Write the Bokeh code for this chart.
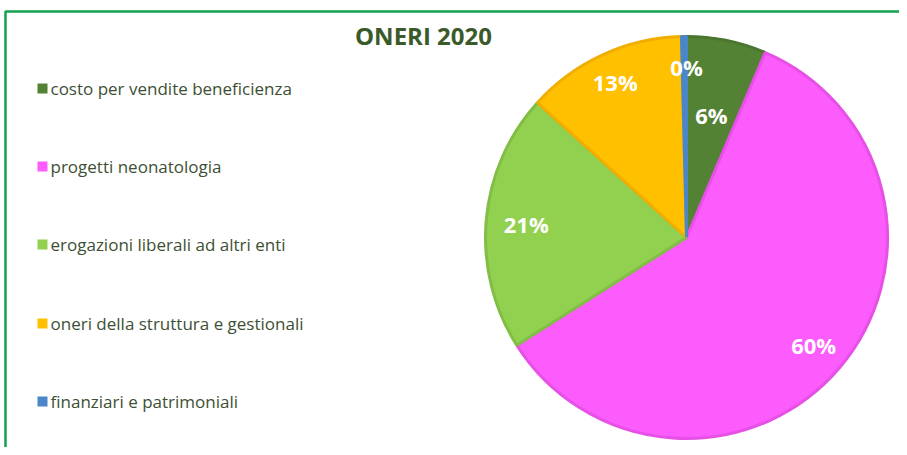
import math
from bokeh.plotting import figure
from bokeh.models import Range1d, ColumnDataSource
from bokeh.core.properties import value
from bokeh.embed import file_html
from bokeh.resources import INLINE

title_text = "ONERI 2020"
categories = ["costo per vendite beneficienza", "progetti neonatologia",
              "erogazioni liberali ad altri enti", "oneri della struttura e gestionali",
              "finanziari e patrimoniali"]
values = [6.4, 59.6, 20.7, 12.9, 0.4]
colors = ["#548235", "#fb5cfb", "#92d050", "#ffc000", "#4a86c8"]
edge_colors = ["#4b7630", "#e650e6", "#82be45", "#f2ae00", "#4a86c8"]

W, H = 899, 447
# data coordinates: x = page px, y = 455 - page px (so 1 unit = 1 px)
p = figure(width=W, height=H, output_backend="svg", toolbar_location=None,
           x_range=Range1d(0, W), y_range=Range1d(455 - H, 455),
           min_border=0, outline_line_color=None)
p.axis.visible = False
p.grid.visible = False
p.background_fill_color = "white"
p.border_fill_color = "white"

# green frame (left and top edges)
p.line(x=[5, 5, 899], y=[0, 444, 444], line_color="#13a14e", line_width=2.5)

# pie
cx, cy, r = 686, 455 - 237, 201
total = sum(values)
starts, ends = [], []
acc = 0.0
for v in values:
    a0 = math.pi / 2 - 2 * math.pi * acc / total
    acc += v
    a1 = math.pi / 2 - 2 * math.pi * acc / total
    starts.append(a0)
    ends.append(a1)

src = ColumnDataSource(dict(start=starts, end=ends, fill=colors, edge=edge_colors))
p.wedge(x=cx, y=cy, radius=r, start_angle="start", end_angle="end", direction="clock",
        fill_color="fill", line_color="edge", line_width=3, source=src)

# percentage labels
lab_r = [0.62, 0.83, 0.80, 0.85, 0.85]
lx, ly, lt = [], [], []
for i, v in enumerate(values):
    mid = (starts[i] + ends[i]) / 2
    if i == 4:
        mid = math.pi / 2
    lx.append(cx + r * lab_r[i] * math.cos(mid))
    ly.append(cy + r * lab_r[i] * math.sin(mid))
    lt.append(f"{round(v / total * 100)}%")
p.text(x=lx, y=ly, text=lt, text_color="white", text_font=value("Open Sans"),
       text_font_style="bold", text_font_size="22px", text_align="center",
       text_baseline="middle")

# title
p.text(x=[423], y=[455 - 35], text=[title_text], text_color="#3b5a2a",
       text_font=value("Open Sans"), text_font_style="bold", text_font_size="24px",
       text_align="center", text_baseline="middle")

# legend
leg_y = [88, 166, 244, 323, 401]
p.rect(x=[42] * 5, y=[455 - yy for yy in leg_y], width=10, height=10,
       fill_color=colors, line_color=None)
p.text(x=[50] * 5, y=[455 - yy for yy in leg_y], text=categories, text_color="#3d5034",
       text_font=value("Open Sans"), text_font_size="17px", text_align="left",
       text_baseline="middle")

open("out.html", "w").write(file_html(p, INLINE))
